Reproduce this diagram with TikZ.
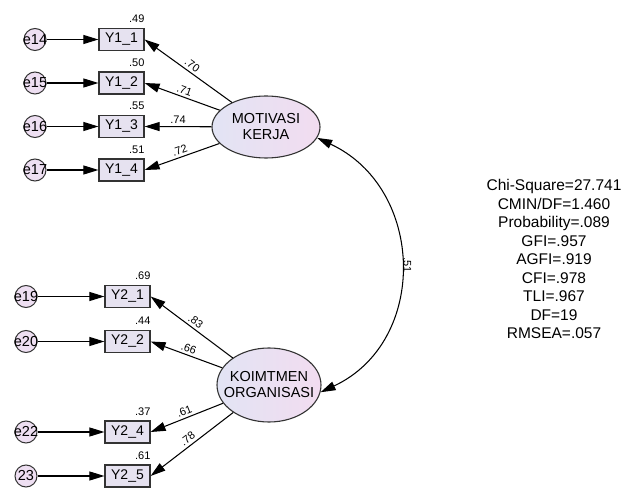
\documentclass[tikz,border=0pt]{standalone}
\usepackage{fontspec}
\setmainfont{Liberation Sans}
\usetikzlibrary{shapes.geometric,arrows.meta}
\definecolor{boxfill}{HTML}{E6E2F0}
\definecolor{errfill}{HTML}{EEDFF2}
\definecolor{ellL}{HTML}{E2E4F4}
\definecolor{ellR}{HTML}{F2DCF0}
\definecolor{edge}{HTML}{333333}
\begin{document}
\begin{tikzpicture}[x=1pt,y=1pt,
  obs/.style={draw=edge, line width=1.2pt, fill=boxfill, minimum width=45pt, minimum height=22pt, inner sep=0pt, font=\fontsize{14}{14}\selectfont},
  err/.style={circle, draw=edge, line width=1pt, fill=errfill, minimum size=22pt, inner sep=0pt},
  efont/.style={inner sep=0pt, font=\fontsize{14.5}{14}\selectfont},
  lat/.style={ellipse, draw=edge, line width=1.1pt, left color=ellL, right color=ellR, inner sep=0pt},
  latfont/.style={inner sep=0pt, align=center, font=\fontsize{14.5}{16}\selectfont},
  arr/.style={line width=1.05pt, -{Triangle[length=15pt,width=9pt]}},
  lbl/.style={sloped, above, inner sep=2.5pt, font=\fontsize{11}{11}\selectfont},
  r2/.style={anchor=south east, inner sep=0pt, yshift=5pt, font=\fontsize{11}{11}\selectfont}]
\useasboundingbox (0,0) rectangle (625,488);
\fill[white] (0,0) rectangle (625,488);

% upper block
\node[err, label={[efont]center:e14}] (e14) at (35,448.5) {};
\node[err, label={[efont]center:e15}] (e15) at (35,405) {};
\node[err, label={[efont]center:e16}] (e16) at (35,361.5) {};
\node[err, label={[efont]center:e17}] (e17) at (35,318) {};
\node[obs] (y11) at (121.5,448.5) {Y1\_1};
\node[obs] (y12) at (121.5,405) {Y1\_2};
\node[obs] (y13) at (121.5,361.5) {Y1\_3};
\node[obs] (y14) at (121.5,318) {Y1\_4};
\node[r2] (r11) at (y11.north east) {.49};
\node[r2] (r12) at (y12.north east) {.50};
\node[r2] (r13) at (y13.north east) {.55};
\node[r2] (r14) at (y14.north east) {.51};
\node[lat, minimum width=108pt, minimum height=62pt, label={[latfont]center:MOTIVASI\\KERJA}] (m) at (266,361) {};

% lower block
\node[err, label={[efont]center:e19}] (e19) at (26,191.5) {};
\node[err, label={[efont]center:e20}] (e20) at (26,146.5) {};
\node[err, label={[efont]center:e22}] (e22) at (26,56) {};
\node[err, label={[efont]center:23}] (e23) at (26,12) {};
\node[obs] (y21) at (127.5,191.5) {Y2\_1};
\node[obs] (y22) at (127.5,146.5) {Y2\_2};
\node[obs] (y24) at (127.5,56) {Y2\_4};
\node[obs] (y25) at (127.5,12) {Y2\_5};
\node[r2] (r21) at (y21.north east) {.69};
\node[r2] (r22) at (y22.north east) {.44};
\node[r2] (r24) at (y24.north east) {.37};
\node[r2] (r25) at (y25.north east) {.61};
\node[lat, minimum width=104pt, minimum height=74pt, label={[latfont]center:KOIMTMEN\\ORGANISASI}] (k) at (269,103) {};

% error arrows
\foreach \e/\y in {e14/y11,e15/y12,e16/y13,e17/y14,e19/y21,e20/y22,e22/y24,e23/y25}
  \draw[arr] (\e) -- (\y);

% loadings
\draw[arr] (m) -- node[lbl] {.70} (y11.east);
\draw[arr] (m) -- node[lbl] {.71} (y12.east);
\draw[arr] (m) -- node[lbl] {.74} (y13.east);
\draw[arr] (m) -- node[lbl] {.72} (y14.east);
\draw[arr] (k) -- node[lbl] {.83} (y21.east);
\draw[arr] (k) -- node[lbl] {.66} (y22.east);
\draw[arr] (k) -- node[lbl] {.61} (y24.east);
\draw[arr] (k) -- node[lbl] {.78} (y25.east);

% covariance
\draw[line width=1.05pt, {Triangle[length=15pt,width=9pt]}-{Triangle[length=15pt,width=9pt]}]
  (m.-12) to[out=-25,in=25,looseness=1.2]
  node[pos=0.5, rotate=-90, anchor=south, inner sep=3pt, font=\fontsize{11}{11}\selectfont] (c51) {.51}
  (k.-8);

% fit indices
\node[align=center, inner sep=0pt, font=\fontsize{15.5}{18.5}\selectfont] (fit) at (554,229)
  {Chi-Square=27.741\\CMIN/DF=1.460\\Probability=.089\\GFI=.957\\AGFI=.919\\CFI=.978\\TLI=.967\\DF=19\\RMSEA=.057};
\end{tikzpicture}
\end{document}
